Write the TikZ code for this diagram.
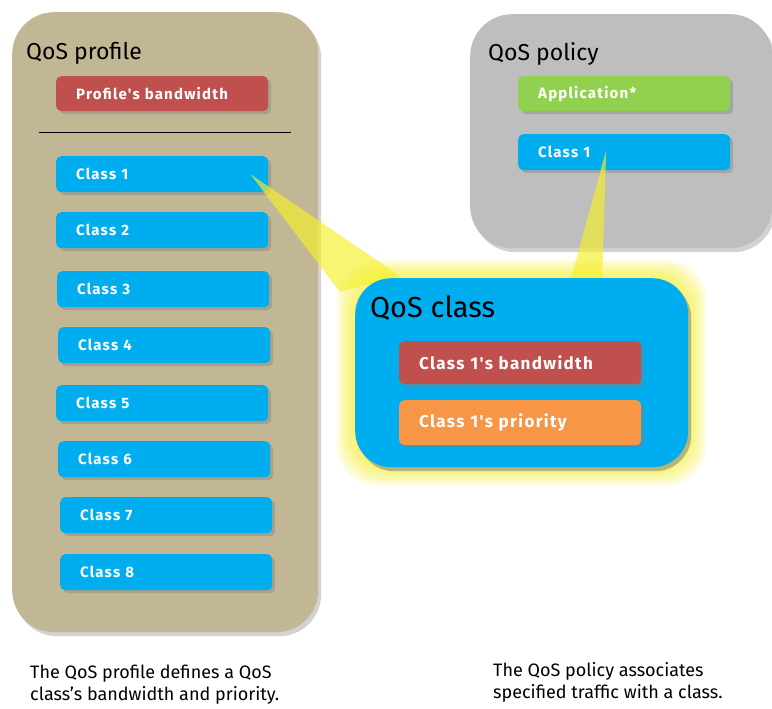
\documentclass[tikz,border=0pt]{standalone}
\usepackage{fontspec}
\setmainfont{Fira Sans}
\newfontfamily\boxfont[LetterSpace=8]{Fira Sans}
\usepackage{xcolor}
\usetikzlibrary{positioning,shadows,calc}

\definecolor{profiletan}{RGB}{193,183,149}
\definecolor{policygray}{RGB}{190,190,190}
\definecolor{classblue}{RGB}{0,174,239}
\definecolor{bwred}{RGB}{192,80,77}
\definecolor{appgreen}{RGB}{146,208,80}
\definecolor{prioorange}{RGB}{247,150,70}
\definecolor{beamyellow}{RGB}{245,240,40}

\begin{document}
\begin{tikzpicture}[
    x=1pt, y=-1pt,
    panel/.style={
      rounded corners=42pt,
      anchor=north west,
      inner sep=0pt,
      drop shadow={shadow xshift=3pt, shadow yshift=-4pt, opacity=0.35}
    },
    item/.style={
      rounded corners=5pt,
      anchor=north west,
      text width=172pt,
      inner xsep=20pt,
      inner ysep=0pt,
      minimum height=36pt,
      align=left,
      text=white,
      font=\boxfont\fontsize{15}{17}\selectfont\bfseries,
      drop shadow={shadow xshift=3pt, shadow yshift=-3pt, opacity=0.4}
    },
    title/.style={anchor=base west, inner sep=0pt, font=\fontsize{23}{26}\selectfont},
    caption/.style={anchor=north west, inner sep=0pt, align=left,
      font=\fontsize{18}{22}\selectfont},
    beam/.style={fill=beamyellow, opacity=0.65}
  ]
    \fill[white] (0,0) rectangle (772,709);
    \useasboundingbox (0,0) rectangle (772,709);

    % QoS profile
    \node[panel, fill=profiletan, minimum width=306pt, minimum height=620pt] (profile) at (12,12) {};
    \node[title] (profiletitle) at (26,60) {QoS profile};
    \node[item, fill=bwred, minimum height=35pt] (pbw) at (56,76) {Profile's bandwidth};
    \coordinate (sepl) at (39,132);
    \coordinate (sepr) at (291,132);
    \draw[thick] (sepl) -- (sepr);
    \foreach \i/\x/\y in {1/56/156, 2/56/212, 3/57/271, 4/58/327, 5/56/385, 6/58/441, 7/60/497, 8/60/554}
      \node[item, fill=classblue] (pclass\i) at (\x,\y) {Class \i};

    % QoS policy
    \node[panel, fill=policygray, minimum width=302pt, minimum height=234pt] (policy) at (470,14) {};
    \node[title] (policytitle) at (488,61) {QoS policy};
    \node[item, fill=appgreen, minimum height=35pt] (app) at (518,76) {Application*};
    \node[item, fill=classblue] (qclass1) at (518,134) {Class 1};

    % QoS class glow
    \coordinate (qnw) at (355,278);
    \coordinate (qse) at (688,467);
    \foreach \g in {18,15,12,9,6,3}
      \fill[beamyellow, opacity=0.15, rounded corners=40pt]
        ($(qnw)+(-\g,-\g)$) rectangle ($(qse)+(\g,\g)$);

    % beams
    \coordinate (b1) at ($(pclass1.east)+(-18,0)$);
    \coordinate (b2) at ($(qclass1.center)+(-18,-2)$);
    \fill[beam] (b1) -- (340,292) -- (400,276) -- cycle;
    \fill[beam] (b2) -- (570,282) -- (602,282) -- cycle;

    % QoS class
    \node[panel, fill=classblue, rounded corners=36pt, minimum width=333pt, minimum height=189pt,
      drop shadow={shadow xshift=3pt, shadow yshift=-4pt, opacity=0.3}] (qos) at (qnw) {};
    \node[title, font=\fontsize{29}{32}\selectfont] (qostitle) at (370,317) {QoS class};
    \node[item, fill=bwred, text width=202pt, minimum height=43pt,
      font=\boxfont\fontsize{17}{19}\selectfont\bfseries] (cbw) at (399,341) {Class 1's bandwidth};
    \node[item, fill=prioorange, text width=202pt, minimum height=45pt,
      font=\boxfont\fontsize{17}{19}\selectfont\bfseries] (cprio) at (399,400) {Class 1's priority};

    % captions
    \node[caption] (cap1) at (30,665) {The QoS profile defines a QoS\\class's bandwidth and priority.};
    \node[caption] (cap2) at (493,662) {The QoS policy associates\\specified traffic with a class.};
  \end{tikzpicture}
\end{document}
